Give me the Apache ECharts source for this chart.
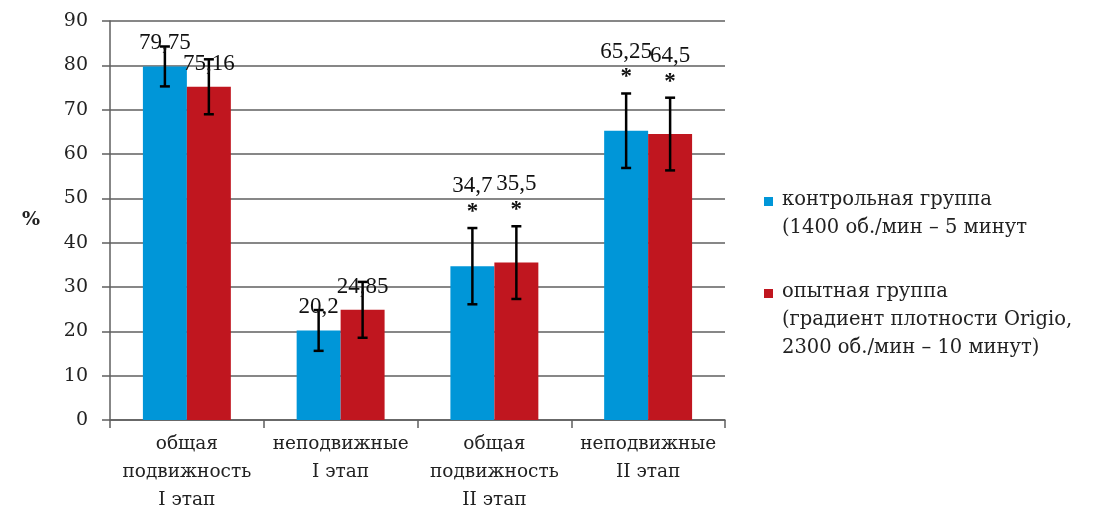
<!DOCTYPE html>
<html><head><meta charset="utf-8">
<script src="https://cdn.jsdelivr.net/npm/echarts@6/dist/echarts.min.js"></script>
<style>html,body{margin:0;padding:0;background:#fff}#c{width:1098px;height:514px}</style>
</head><body><div id="c"></div>
<script>
const categories = ['общая\nподвижность\nI этап', 'неподвижные\nI этап', 'общая\nподвижность\nII этап', 'неподвижные\nII этап'];
const controlValues = [79.75, 20.2, 34.7, 65.25];
const experimentalValues = [75.16, 24.85, 35.5, 64.5];
const controlErrors = [4.5, 4.6, 8.6, 8.4];
const experimentalErrors = [6.2, 6.3, 8.2, 8.2];
const controlStars = [0, 0, 1, 1];
const experimentalStars = [0, 0, 1, 1];
const yTicks = [0, 10, 20, 30, 40, 50, 60, 70, 80, 90];
const seriesNames = ['контрольная группа\n(1400 об./мин – 5 минут', 'опытная группа\n(градиент плотности Origio,\n2300 об./мин – 10 минут)'];

const BLUE = '#0096D8', RED = '#C0161F';
const fmt = v => String(v).replace('.', ',');

function errSeries(values, errors, stars, sign) {
  return {
    type: 'custom',
    z: 5,
    data: values.map((v, i) => [i, v, errors[i], stars[i]]),
    renderItem: function (params, api) {
      const i = api.value(0), v = api.value(1), e = api.value(2), st = api.value(3);
      const band = api.size([1, 0])[0];
      const c = api.coord([i, v]);
      const x = c[0] + sign * band * 0.143;
      const yT = api.coord([i, v + e])[1];
      const yB = api.coord([i, v - e])[1];
      const ls = { stroke: '#000', lineWidth: 2.5 };
      const children = [
        { type: 'line', shape: { x1: x, y1: yT, x2: x, y2: yB }, style: ls },
        { type: 'line', shape: { x1: x - 5, y1: yT, x2: x + 5, y2: yT }, style: ls },
        { type: 'line', shape: { x1: x - 5, y1: yB, x2: x + 5, y2: yB }, style: ls }
      ];
      const font = '23px "Liberation Serif", serif';
      if (st) {
        children.push({ type: 'text', style: { text: fmt(v), x: x, y: yT - 42, align: 'center', verticalAlign: 'middle', font: font, fill: '#111' } });
        children.push({ type: 'text', style: { text: '*', x: x, y: yT - 16, align: 'center', verticalAlign: 'middle', font: 'bold 23px "Liberation Serif", serif', fill: '#111' } });
      } else {
        children.push({ type: 'text', style: { text: fmt(v), x: x, y: c[1] - 23, align: 'center', verticalAlign: 'middle', font: font, fill: '#111' } });
      }
      return { type: 'group', children: children };
    }
  };
}

const chart = echarts.init(document.getElementById('c'));
const axisColor = '#5f5f5f';
chart.setOption({
  animation: false,
  grid: { left: 110, right: 373, top: 21, bottom: 89 },
  xAxis: {
    type: 'category',
    data: categories,
    axisLine: { lineStyle: { color: axisColor, width: 1.5 } },
    axisTick: { show: true, alignWithLabel: false, interval: 0, length: 8, lineStyle: { color: axisColor, width: 1.5 } },
    axisLabel: { interval: 0, margin: 10, fontFamily: 'DejaVu Serif', fontSize: 18.5, lineHeight: 28, color: '#222' }
  },
  yAxis: {
    type: 'value', min: 0, max: 90, interval: 10,
    name: '%', nameLocation: 'middle', nameGap: 70, nameRotate: 0,
    nameTextStyle: { fontFamily: 'DejaVu Serif', fontSize: 19, fontWeight: 'bold', color: '#222', padding: [28, 0, 0, 0] },
    axisLine: { show: true, lineStyle: { color: axisColor, width: 1.5 } },
    axisTick: { show: true, length: 8, lineStyle: { color: axisColor, width: 1.5 } },
    splitLine: { lineStyle: { color: axisColor, width: 1.5 } },
    axisLabel: { margin: 22, fontFamily: 'DejaVu Serif', fontSize: 19, color: '#222',
      formatter: v => yTicks.indexOf(v) >= 0 ? String(v) : '' }
  },
  series: [
    { name: seriesNames[0], type: 'bar', data: controlValues, barWidth: '28.6%', barGap: '0%', itemStyle: { color: BLUE } },
    { name: seriesNames[1], type: 'bar', data: experimentalValues, barWidth: '28.6%', barGap: '0%', itemStyle: { color: RED } },
    errSeries(controlValues, controlErrors, controlStars, -1),
    errSeries(experimentalValues, experimentalErrors, experimentalStars, 1)
  ],
  graphic: [
    { type: 'rect', left: 764, top: 197, shape: { width: 9, height: 9 }, style: { fill: BLUE } },
    { type: 'text', left: 782, top: 186, style: { text: seriesNames[0], font: '19.5px "DejaVu Serif", serif', lineHeight: 28, fill: '#222' } },
    { type: 'rect', left: 764, top: 289, shape: { width: 9, height: 9 }, style: { fill: RED } },
    { type: 'text', left: 782, top: 278, style: { text: seriesNames[1], font: '19.5px "DejaVu Serif", serif', lineHeight: 28, fill: '#222' } }
  ]
});
</script></body></html>
